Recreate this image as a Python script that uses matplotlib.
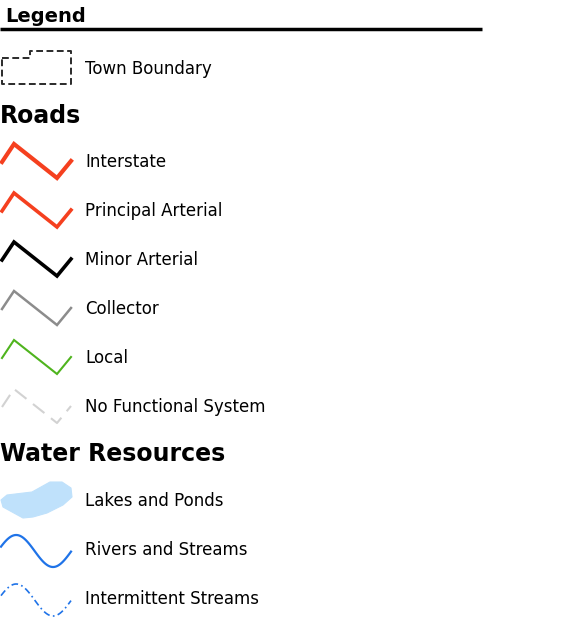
import numpy as np
import matplotlib
matplotlib.use("Agg")
import matplotlib.pyplot as plt
from matplotlib.patches import Polygon

# legend content
road_labels = ["Interstate", "Principal Arterial", "Minor Arterial",
               "Collector", "Local", "No Functional System"]
road_colors = ["#f5401f", "#f5401f", "#000000", "#8c8c8c", "#4fb41e", "#d2d2d2"]
road_widths = [3.0, 2.6, 2.6, 1.8, 1.5, 1.5]
road_styles = ["-", "-", "-", "-", "-", (0, (7, 4))]
water_labels = ["Lakes and Ponds", "Rivers and Streams", "Intermittent Streams"]
header_labels = ["Legend", "Roads", "Water Resources"]
boundary_label = "Town Boundary"

fig = plt.figure(figsize=(5.66, 6.20), dpi=100)
ax = fig.add_axes([0, 0, 1, 1])
ax.set_xlim(0, 566)
ax.set_ylim(620, 0)
ax.axis("off")

font = "DejaVu Sans"
lab_size = 12
lab_x = 85

# title + rule
ax.text(5, 16, header_labels[0], fontsize=14, fontweight="bold", va="center", family=font)
ax.plot([0, 482], [29, 29], color="black", lw=2.5, solid_capstyle="butt")

# town boundary
bx = [2, 30, 30, 71, 71, 2, 2]
by = [58, 58, 51, 51, 84, 84, 58]
ax.plot(bx, by, color="#2a2a2a", lw=1.4, ls=(0, (3.5, 1.8)))
ax.text(lab_x, 69, boundary_label, fontsize=lab_size, va="center", family=font)

# roads
ax.text(0, 116, header_labels[1], fontsize=17, fontweight="bold", va="center", family=font)
zig_x = np.array([2, 14, 57, 71])
zig_y = np.array([0, -18, 16, -1])
row_y = 162
for lab, c, w, s in zip(road_labels, road_colors, road_widths, road_styles):
    ax.plot(zig_x, zig_y + row_y, color=c, lw=w, ls=s, solid_joinstyle="miter")
    ax.text(lab_x, row_y, lab, fontsize=lab_size, va="center", family=font)
    row_y += 49

# water
ax.text(0, 454, header_labels[2], fontsize=17, fontweight="bold", va="center", family=font)
lake = np.array([[1, 500], [7, 495], [32, 492], [50, 482], [62, 482],
                 [71, 488], [72, 497], [63, 505], [47, 513], [33, 517],
                 [23, 518], [3, 507]])
ax.add_patch(Polygon(lake, closed=True, facecolor="#bfe1fb", edgecolor="#bfe1fb",
                     lw=0.8, joinstyle="round"))
ax.text(lab_x, 501, water_labels[0], fontsize=lab_size, va="center", family=font)

t = np.linspace(0, 1, 100)
wave_x = 1 + 70 * t
wave_y = -16 * np.sin(2 * np.pi * (t * 0.95 + 0.02) + 0.15) + 1
ax.plot(wave_x, wave_y + 550, color="#1f73e8", lw=1.6)
ax.text(lab_x, 550, water_labels[1], fontsize=lab_size, va="center", family=font)
ax.plot(wave_x, wave_y + 599, color="#1f73e8", lw=1.2, ls=(0, (4, 2, 1, 2)))
ax.text(lab_x, 599, water_labels[2], fontsize=lab_size, va="center", family=font)

fig.savefig("out.png", dpi=100, facecolor="white")
